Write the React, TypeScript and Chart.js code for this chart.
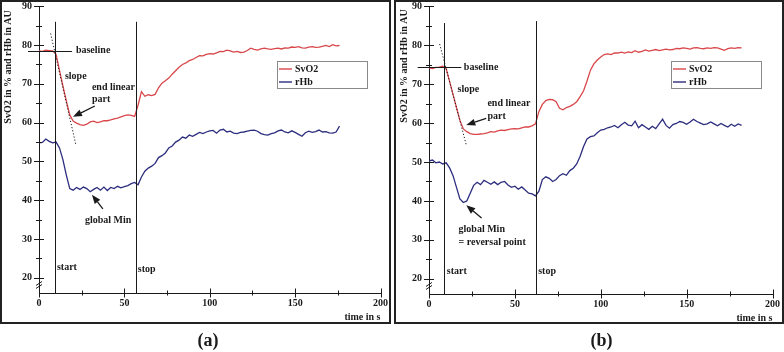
import React, { useEffect, useRef } from "react";
import { Chart, registerables } from "chart.js";
Chart.register(...registerables);

// ---------- data ----------
const timeA = [0,2,4,6,8,10,12,14,16,18,20,22,24,26,28,30,32,34,36,38,40,42,44,46,48,50,52,54,56,58,60,62,64,66,68,70,72,74,76,78,80,82,84,86,88,90,92,94,96,98,100,102,104,106,108,110,112,114,116,118,120,122,124,126,128,130,132,134,136,138,140,142,144,146,148,150,152,154,156,158,160,162,164,166,168,170,172,174,176];
const svo2A = [78.5,78.4,78.7,78.6,78.5,77.6,73.5,69.5,65.6,62.0,60.4,59.9,59.5,59.3,59.6,60.2,60.4,60.0,60.2,60.5,60.5,60.7,61.0,61.2,61.5,61.8,62.0,61.9,61.6,64.5,68.0,66.8,67.2,67.0,67.3,69.0,70.2,70.8,71.5,72.5,73.4,74.3,75.0,75.4,76.0,76.3,76.8,77.3,77.2,77.6,77.8,77.7,78.0,78.4,78.3,78.7,78.5,78.2,78.4,78.1,78.2,78.6,79.2,78.9,78.7,79.0,79.2,79.0,78.9,79.1,79.2,79.0,79.3,79.2,79.5,79.4,79.6,79.3,79.2,79.5,79.6,79.4,79.5,79.7,79.9,79.6,80.1,79.8,79.9];
const rhbA = [54.8,54.9,55.8,55.2,54.8,55.0,53.5,50.5,46.5,43.0,42.6,43.3,42.8,43.4,43.0,42.2,42.8,43.3,42.6,43.4,42.5,43.3,43.0,43.6,43.2,43.5,43.8,44.3,44.6,44.0,46.0,47.5,48.3,48.8,49.5,51.0,51.5,52.2,53.5,54.0,55.0,55.5,56.3,56.0,56.8,56.5,57.0,57.5,57.2,57.6,57.9,58.0,57.3,58.1,58.3,57.6,57.8,57.3,57.2,57.5,57.6,57.8,58.0,58.1,57.8,57.2,56.9,56.8,57.2,57.4,57.9,58.1,57.6,57.4,57.9,57.5,57.0,56.5,57.4,57.8,57.5,57.7,58.1,57.6,57.7,57.4,57.3,57.6,59.1];

const timeB = [0,2,4,6,8,10,12,14,16,18,20,22,24,26,28,30,32,34,36,38,40,42,44,46,48,50,52,54,56,58,60,62,64,66,68,70,72,74,76,78,80,82,84,86,88,90,92,94,96,98,100,102,104,106,108,110,112,114,116,118,120,122,124,126,128,130,132,134,136,138,140,142,144,146,148,150,152,154,156,158,160,162,164,166,168,170,172,174,176,178,180,182];
const svo2B = [74.2,74.0,74.3,74.4,74.6,74.0,70.7,67.3,64.0,60.7,58.5,57.8,57.3,57.1,57.1,57.2,57.3,57.5,57.8,57.7,58.0,58.2,58.1,58.3,58.5,58.6,58.5,58.8,59.0,59.0,59.3,59.8,63.0,64.8,65.8,66.1,66.0,65.5,63.8,63.4,64.0,64.3,64.8,65.5,66.8,68.3,70.8,73.6,75.2,76.2,77.0,77.6,77.8,77.6,78.0,78.0,78.2,78.0,78.3,78.1,78.6,78.2,78.4,78.8,78.5,78.7,78.9,78.6,78.8,79.0,78.8,78.9,79.2,79.1,79.3,79.2,79.0,79.3,79.4,79.2,79.1,79.3,79.2,79.4,79.3,79.0,78.7,79.1,79.3,79.2,79.4,79.3];
const rhbB = [50.3,50.5,49.8,50.0,49.5,49.8,48.5,46.5,43.5,40.5,39.6,40.0,42.0,44.0,44.8,44.2,45.3,44.8,44.3,44.9,44.2,44.8,45.0,44.1,43.5,43.8,43.0,43.6,42.8,42.0,41.8,41.3,42.5,45.5,46.2,45.8,45.0,45.5,46.5,47.0,46.6,47.8,48.4,49.5,51.5,54.0,55.9,56.5,56.7,57.5,58.2,58.4,58.8,59.0,59.4,58.8,59.6,60.2,59.5,59.3,60.5,58.8,59.6,59.0,58.4,59.2,58.6,59.8,61.0,59.4,58.7,59.6,59.9,60.4,60.2,59.7,60.3,61.0,60.4,60.0,59.6,59.8,60.3,59.8,59.3,59.9,59.4,59.0,59.7,59.2,59.8,59.4];

const xTickValues = [0,25,50,75,100,125,150,175,200];
const yTickValues = [20,25,30,35,40,45,50,55,60,65,70,75,80,85,90];
const seriesNames = ["SvO2", "rHb"];
const yTitle = "SvO2 in % and rHb in AU";
const xTitle = "time in s";

// ---------- styles ----------
const RED = "#d9474a";
const BLUE = "#2c2d7e";
const INK = "#1a1a1a";
const FONT = "'Liberation Serif', 'Times New Roman', serif";

type Txt = { t: string; x: number; y: number };
type Panel = {
  tag: string;
  time: number[]; svo2: number[]; rhb: number[];
  start: { x: number; top: number }; stop: { x: number; top: number };
  baseline: { y: number; x0: number; x1: number };
  slope: [number, number, number, number];
  texts: Txt[];
  arrows: [number, number, number, number][];
  yAxisWidth: number; xAxisHeight: number; padRight: number;
  frame: [number, number, number, number];
  titleX: number; titleY: number;
  legend: [number, number, number, number];
  tagX: number;
};

const panelA: Panel = {
  tag: "a", time: timeA, svo2: svo2A, rhb: rhbA,
  start: { x: 9.4, top: 86 }, stop: { x: 57.1, top: 86 },
  baseline: { y: 78.6, x0: -6.4, x1: 19.3 },
  slope: [6.8, 83.0, 21.6, 54.3],
  texts: [
    { t: "baseline", x: 21.6, y: 78.5 },
    { t: "slope", x: 15.2, y: 71.8 },
    { t: "end linear", x: 31, y: 69.2 },
    { t: "part", x: 31, y: 66.1 },
    { t: "global Min", x: 26.9, y: 34.7 },
    { t: "start", x: 10.5, y: 22.8 },
    { t: "stop", x: 57.9, y: 22.3 },
  ],
  arrows: [[32.7, 64.3, 19.9, 61.5], [37.4, 37.8, 31, 41.4]],
  yAxisWidth: 39, xAxisHeight: 59, padRight: 10.5,
  frame: [1, 1, 389, 322],
  titleX: 8, titleY: 67,
  legend: [277, 61, 90, 27],
  tagX: 208,
};

const panelB: Panel = {
  tag: "b", time: timeB, svo2: svo2B, rhb: rhbB,
  start: { x: 8.7, top: 85.7 }, stop: { x: 62.3, top: 86.2 },
  baseline: { y: 74.3, x0: -6.6, x1: 18.8 },
  slope: [6.2, 80.3, 21.7, 54.4],
  texts: [
    { t: "baseline", x: 20.3, y: 74.4 },
    { t: "slope", x: 16.6, y: 68.6 },
    { t: "end linear", x: 34, y: 65.1 },
    { t: "part", x: 34, y: 61.8 },
    { t: "global Min", x: 17.2, y: 32.7 },
    { t: "= reversal point", x: 17.2, y: 29.4 },
    { t: "start", x: 10.4, y: 22.0 },
    { t: "stop", x: 63.6, y: 22.0 },
  ],
  arrows: [[33.3, 61.2, 21.7, 59.5], [30.6, 35.6, 21.7, 38.9]],
  yAxisWidth: 37, xAxisHeight: 58, padRight: 9.5,
  frame: [3, 1, 388, 322],
  titleX: 12, titleY: 66,
  legend: [279, 61, 90, 27],
  tagX: 209.5,
};

function decoPlugin(p: Panel) {
  return {
    id: "deco_" + p.tag,
    afterDraw(chart: any) {
      const ctx: CanvasRenderingContext2D = chart.ctx;
      const xs = chart.scales.x, ys = chart.scales.y;
      const X = (v: number) => xs.getPixelForValue(v);
      const Y = (v: number) => ys.getPixelForValue(v);
      const a = chart.chartArea;
      const line = (x0: number, y0: number, x1: number, y1: number) => {
        ctx.beginPath(); ctx.moveTo(x0, y0); ctx.lineTo(x1, y1); ctx.stroke();
      };
      ctx.save();
      ctx.strokeStyle = INK; ctx.lineWidth = 1; ctx.fillStyle = INK;
      // tick marks crossing the axes
      for (const v of xTickValues) {
        const px = Math.round(X(v)) + 0.5; const L = v % 50 === 0 ? 4.5 : 2.5;
        line(px, a.bottom - L, px, a.bottom + L);
      }
      for (const v of yTickValues) {
        const py = Math.round(Y(v)) + 0.5; const L = v % 10 === 0 ? 5 : 3;
        line(a.left - L, py, a.left + L, py);
      }
      // axis break marks
      const by = Y(18.3);
      line(a.left - 3, by + 1, a.left + 3, by - 3);
      line(a.left - 3, by + 4, a.left + 3, by);
      // start / stop
      for (const m of [p.start, p.stop]) {
        const px = Math.round(X(m.x)) + 0.5;
        line(px, Y(m.top), px, a.bottom);
      }
      // baseline
      line(X(p.baseline.x0), Math.round(Y(p.baseline.y)) + 0.5, X(p.baseline.x1), Math.round(Y(p.baseline.y)) + 0.5);
      // slope (dotted)
      ctx.setLineDash([1.2, 2]);
      line(X(p.slope[0]), Y(p.slope[1]), X(p.slope[2]), Y(p.slope[3]));
      ctx.setLineDash([]);
      // arrows
      for (const [x0, y0, x1, y1] of p.arrows) {
        const ax = X(x0), ay = Y(y0), bx = X(x1), by2 = Y(y1);
        const ang = Math.atan2(by2 - ay, bx - ax);
        const hl = 9, hw = 3.5;
        const cx = bx - hl * Math.cos(ang), cy = by2 - hl * Math.sin(ang);
        ctx.lineWidth = 1.3;
        line(ax, ay, cx, cy);
        ctx.beginPath();
        ctx.moveTo(bx, by2);
        ctx.lineTo(cx + hw * Math.sin(ang), cy - hw * Math.cos(ang));
        ctx.lineTo(cx - hw * Math.sin(ang), cy + hw * Math.cos(ang));
        ctx.closePath(); ctx.fill();
        ctx.lineWidth = 1;
      }
      // annotation texts
      ctx.font = `bold 10px ${FONT}`;
      ctx.textAlign = "left"; ctx.textBaseline = "middle";
      for (const t of p.texts) ctx.fillText(t.t, X(t.x), Y(t.y));
      // legend
      const [lx, ly, lw, lh] = p.legend;
      ctx.fillStyle = "#fff"; ctx.fillRect(lx, ly, lw, lh);
      ctx.strokeStyle = "#8a8a8a"; ctx.lineWidth = 1;
      ctx.strokeRect(lx + 0.5, ly + 0.5, lw, lh);
      const cols = [RED, BLUE];
      seriesNames.forEach((n, i) => {
        const yy = ly + 8 + i * 13;
        ctx.strokeStyle = cols[i]; ctx.lineWidth = 1.4;
        line(lx + 2, yy, lx + 15, yy);
        ctx.fillStyle = INK; ctx.textAlign = "left";
        ctx.fillText(n, lx + 18, yy);
      });
      // y title
      ctx.save();
      ctx.translate(p.titleX, p.titleY); ctx.rotate(-Math.PI / 2);
      ctx.textAlign = "center"; ctx.fillStyle = INK;
      ctx.fillText(yTitle, 0, 0);
      ctx.restore();
      // x title
      ctx.textAlign = "right"; ctx.fillStyle = INK;
      ctx.fillText(xTitle, a.right, a.bottom + 24);
      // frame
      ctx.strokeStyle = "#222"; ctx.lineWidth = 2;
      ctx.strokeRect(p.frame[0], p.frame[1], p.frame[2], p.frame[3]);
      // panel tag
      ctx.font = `bold 18px ${FONT}`; ctx.textAlign = "center";
      ctx.fillText("(" + p.tag + ")", p.tagX, 341.5);
      ctx.restore();
    },
  };
}

function makeConfig(p: Panel): any {
  const pts = (vals: number[]) => vals.map((v, i) => ({ x: p.time[i], y: v }));
  return {
    type: "line",
    data: {
      datasets: [
        { label: seriesNames[0], data: pts(p.svo2), borderColor: RED, borderWidth: 1.3, pointRadius: 0, tension: 0, fill: false },
        { label: seriesNames[1], data: pts(p.rhb), borderColor: BLUE, borderWidth: 1.3, pointRadius: 0, tension: 0, fill: false },
      ],
    },
    options: {
      responsive: false, animation: false, devicePixelRatio: 1,
      layout: { padding: { left: 0, top: 0, right: p.padRight, bottom: 0 } },
      plugins: { legend: { display: false }, tooltip: { enabled: false } },
      scales: {
        x: {
          type: "linear", min: 0, max: 200, bounds: "data",
          afterBuildTicks: (s: any) => { s.ticks = xTickValues.map((v) => ({ value: v })); },
          afterFit: (s: any) => { s.height = p.xAxisHeight; },
          grid: { display: false, drawTicks: false },
          border: { display: true, color: INK, width: 1 },
          ticks: {
            autoSkip: false, maxRotation: 0, padding: 4, color: INK,
            font: { family: FONT, size: 10, weight: "bold" },
            callback: (v: number) => (v % 50 === 0 ? String(v) : ""),
          },
        },
        y: {
          type: "linear", min: 16.1, max: 90, bounds: "data",
          afterBuildTicks: (s: any) => { s.ticks = yTickValues.map((v) => ({ value: v })); },
          afterFit: (s: any) => { s.width = p.yAxisWidth; s.paddingTop = 6.3; s.paddingBottom = 0; },
          grid: { display: false, drawTicks: false },
          border: { display: true, color: INK, width: 1 },
          ticks: {
            autoSkip: false, padding: 7, color: INK,
            font: { family: FONT, size: 10, weight: "bold" },
            callback: (v: number) => (v % 10 === 0 ? String(v) : ""),
          },
        },
      },
    },
    plugins: [decoPlugin(p)],
  };
}

function PanelChart({ p, left }: { p: Panel; left: number }) {
  const ref = useRef<HTMLCanvasElement>(null);
  useEffect(() => {
    if (!ref.current) return;
    const c = new Chart(ref.current, makeConfig(p));
    return () => c.destroy();
  }, [p]);
  return (
    <canvas ref={ref} width={392} height={352}
      style={{ position: "absolute", left, top: 0, width: 392, height: 352 }} />
  );
}

export default function App() {
  return (
    <div style={{ position: "fixed", left: 0, top: 0, width: 784, height: 352, background: "#fff", overflow: "hidden" }}>
      <PanelChart p={panelA} left={0} />
      <PanelChart p={panelB} left={392} />
    </div>
  );
}
